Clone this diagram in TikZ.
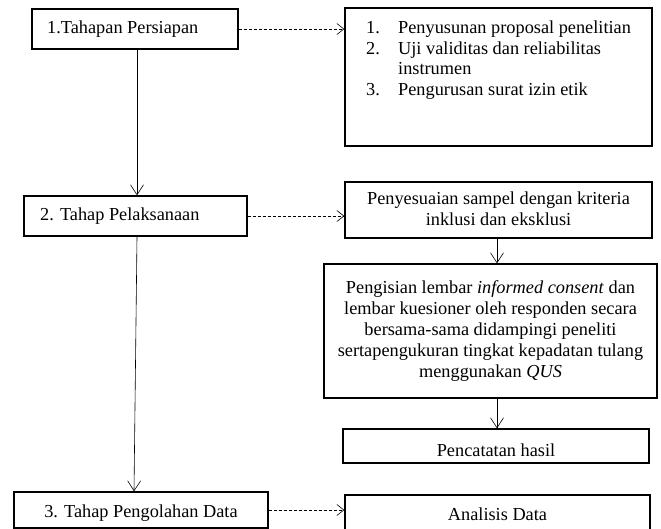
\documentclass[tikz,border=0pt]{standalone}
\usepackage{fontspec}
\setmainfont{Liberation Serif}
\usetikzlibrary{arrows.meta}
\begin{document}
\begin{tikzpicture}[x=1pt,y=-1pt,
  box/.style={draw,line width=1.3pt,inner sep=0pt},
  txt/.style={font=\fontsize{18.3}{20.5}\selectfont,inner sep=0pt},
  conn/.style={line width=0.6pt,-{Straight Barb[length=10pt,width=13pt,line width=0.6pt]}},
  dconn/.style={line width=0.6pt,dash pattern=on 3pt off 2pt,-{Straight Barb[length=7pt,width=11pt,line width=0.6pt]}}]
\useasboundingbox (0,0) rectangle (661,529);
\clip (0,0) rectangle (661,529);
% boxes
\node[box,minimum width=206pt,minimum height=40pt] (A) at (135,29) {};
\node[box,minimum width=307pt,minimum height=138pt] (B) at (498.5,77) {};
\node[box,minimum width=223pt,minimum height=40pt] (C) at (135.5,216) {};
\node[box,minimum width=307pt,minimum height=56pt] (D) at (498.5,210) {};
\node[box,minimum width=333pt,minimum height=134pt] (E) at (490.5,331) {};
\node[box,minimum width=306pt,minimum height=34pt] (F) at (496,446) {};
\node[box,minimum width=254pt,minimum height=36pt] (G) at (141,510) {};
\node[box,minimum width=305pt,minimum height=36pt] (H) at (497.5,513) {};
% texts
\node[txt,anchor=west] (At) at (47,29) {1.Tahapan Persiapan};
\node[txt,anchor=north west] (Bt) at (366,19) {\begin{tabular}{@{}p{32pt}@{}l@{}}
1. & Penyusunan proposal penelitian\\
2. & Uji validitas dan reliabilitas\\
   & instrumen\\
3. & Pengurusan surat izin etik
\end{tabular}};
\node[txt,anchor=west] (Ct) at (40,216) {2. Tahap Pelaksanaan};
\node[txt,align=center] (Dt) at (498.5,208.5) {Penyesuaian sampel dengan kriteria\\inklusi dan eksklusi};
\node[txt,align=center,font=\fontsize{18.3}{21}\selectfont] (Et) at (490.5,331) {Pengisian lembar \textit{informed consent} dan\\lembar kuesioner oleh responden secara\\bersama-sama didampingi peneliti\\sertapengukuran tingkat kepadatan tulang\\menggunakan \textit{QUS}};
\node[txt] (Ft) at (496,450) {Pencatatan hasil};
\node[txt] (Gt) at (141,513) {3. Tahap Pengolahan Data};
\node[txt] (Ht) at (497.5,514) {Analisis Data};
% connectors
\coordinate (x1) at (137,0);
\coordinate (x2) at (134,0);
\coordinate (x3) at (497,0);
\draw[conn] (A.south -| x1) -- (C.north -| x1);
\draw[conn] (C.south -| x1) -- (G.north -| x2);
\draw[conn] (D.south -| x3) -- (E.north -| x3);
\draw[conn] (E.south -| x3) -- (F.north -| x3);
\draw[dconn] (A.east) -- (A.east -| B.west);
\draw[dconn] (C.east) -- (C.east -| D.west);
\draw[dconn] (G.east) -- (G.east -| H.west);
\end{tikzpicture}
\end{document}
